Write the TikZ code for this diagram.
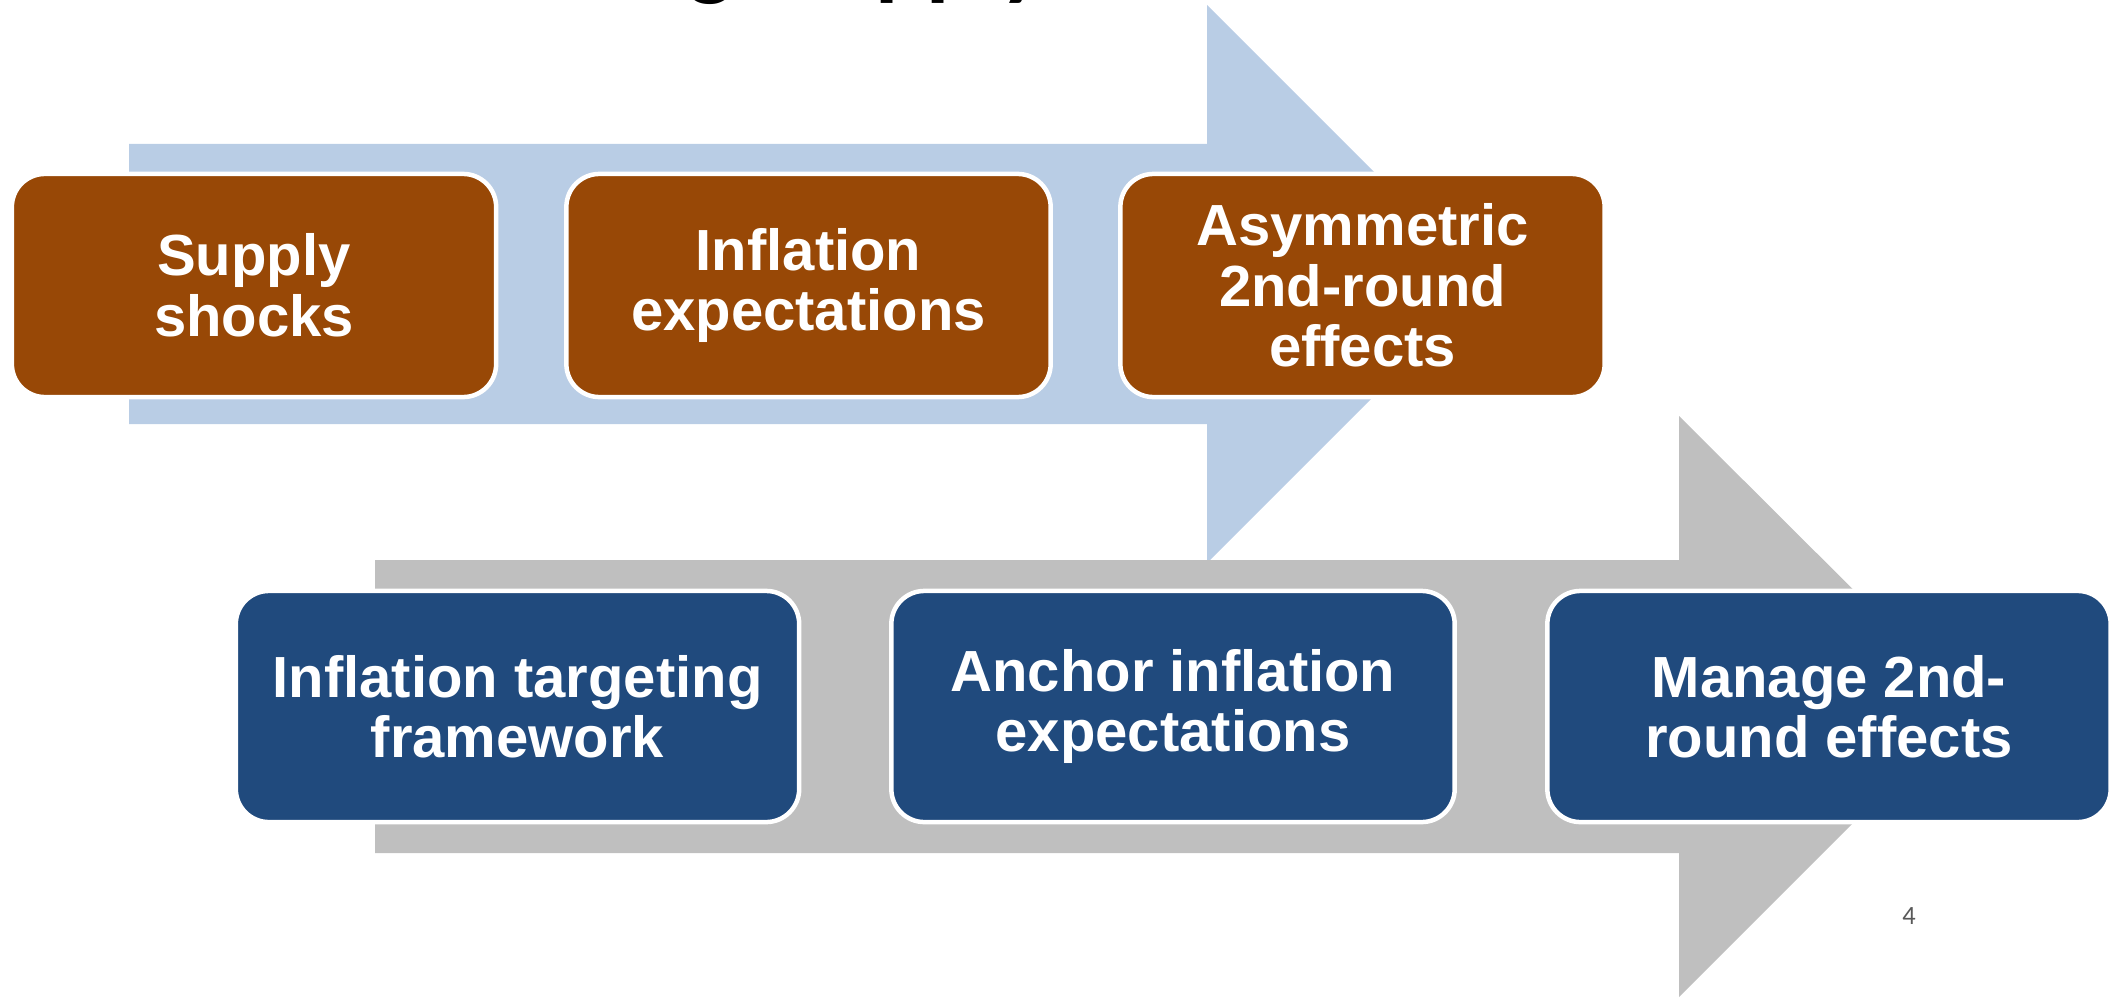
\documentclass[tikz,border=0pt]{standalone}
\usepackage{fontspec}
\setmainfont{Liberation Sans}
\newfontfamily\titlefont{Carlito}
\newfontfamily\pagefont{Carlito}
\definecolor{arrowblue}{RGB}{185,205,229}
\definecolor{arrowgray}{RGB}{191,191,191}
\definecolor{boxbrown}{RGB}{152,72,6}
\definecolor{boxnavy}{RGB}{32,74,125}
\definecolor{pagegray}{RGB}{89,89,89}
\begin{document}
\begin{tikzpicture}[x=0.01cm,y=-0.01cm,
  stepbox/.style={rounded corners=0.33cm, draw=white, line width=0.045cm,
    align=center, text=white, inner sep=0pt,
    font=\fontsize{16.5}{17.2}\selectfont\bfseries},
  topbox/.style={stepbox, fill=boxbrown, minimum width=4.84cm, minimum height=2.23cm},
  botbox/.style={stepbox, fill=boxnavy, minimum width=5.63cm, minimum height=2.31cm},
  bigarrow/.style={draw=none}]
\useasboundingbox (0,0) rectangle (2110,997);
\clip (0,0) rectangle (2110,997);
% partially visible title (only descenders show)
\node[anchor=base west, inner sep=0pt, font=\titlefont\bfseries\fontsize{27}{30}\selectfont] (title) at (688,-11) {g\hspace{0.46cm}Supply};
% background arrows
\fill[arrowblue, bigarrow] (129,144) -- (1207,144) -- (1207,5) -- (1486,284) -- (1207,563) -- (1207,424) -- (129,424) -- cycle;
\fill[arrowgray, bigarrow] (375,560) -- (1679,560) -- (1679,416) -- (1970,706) -- (1679,997) -- (1679,853) -- (375,853) -- cycle;
% top row
\node[topbox] (b1) at (254,285.5) {Supply\\shocks};
\node[topbox] (b2) at (808.5,285.5) {Inflation\\expectations};
\node[topbox] (b3) at (1362.5,285.5) {Asymmetric\\2nd-round\\effects};
% bottom row
\node[botbox] (b4) at (517.5,706.5) {Inflation targeting\\framework};
\node[botbox] (b5) at (1173,706.5) {Anchor inflation\\expectations};
\node[botbox] (b6) at (1829,706.5) {Manage 2nd-\\round effects};
% page number
\node[text=pagegray, font=\pagefont\fontsize{7.5}{9}\selectfont, inner sep=0pt] (pnum) at (1909,916) {4};
\end{tikzpicture}
\end{document}
